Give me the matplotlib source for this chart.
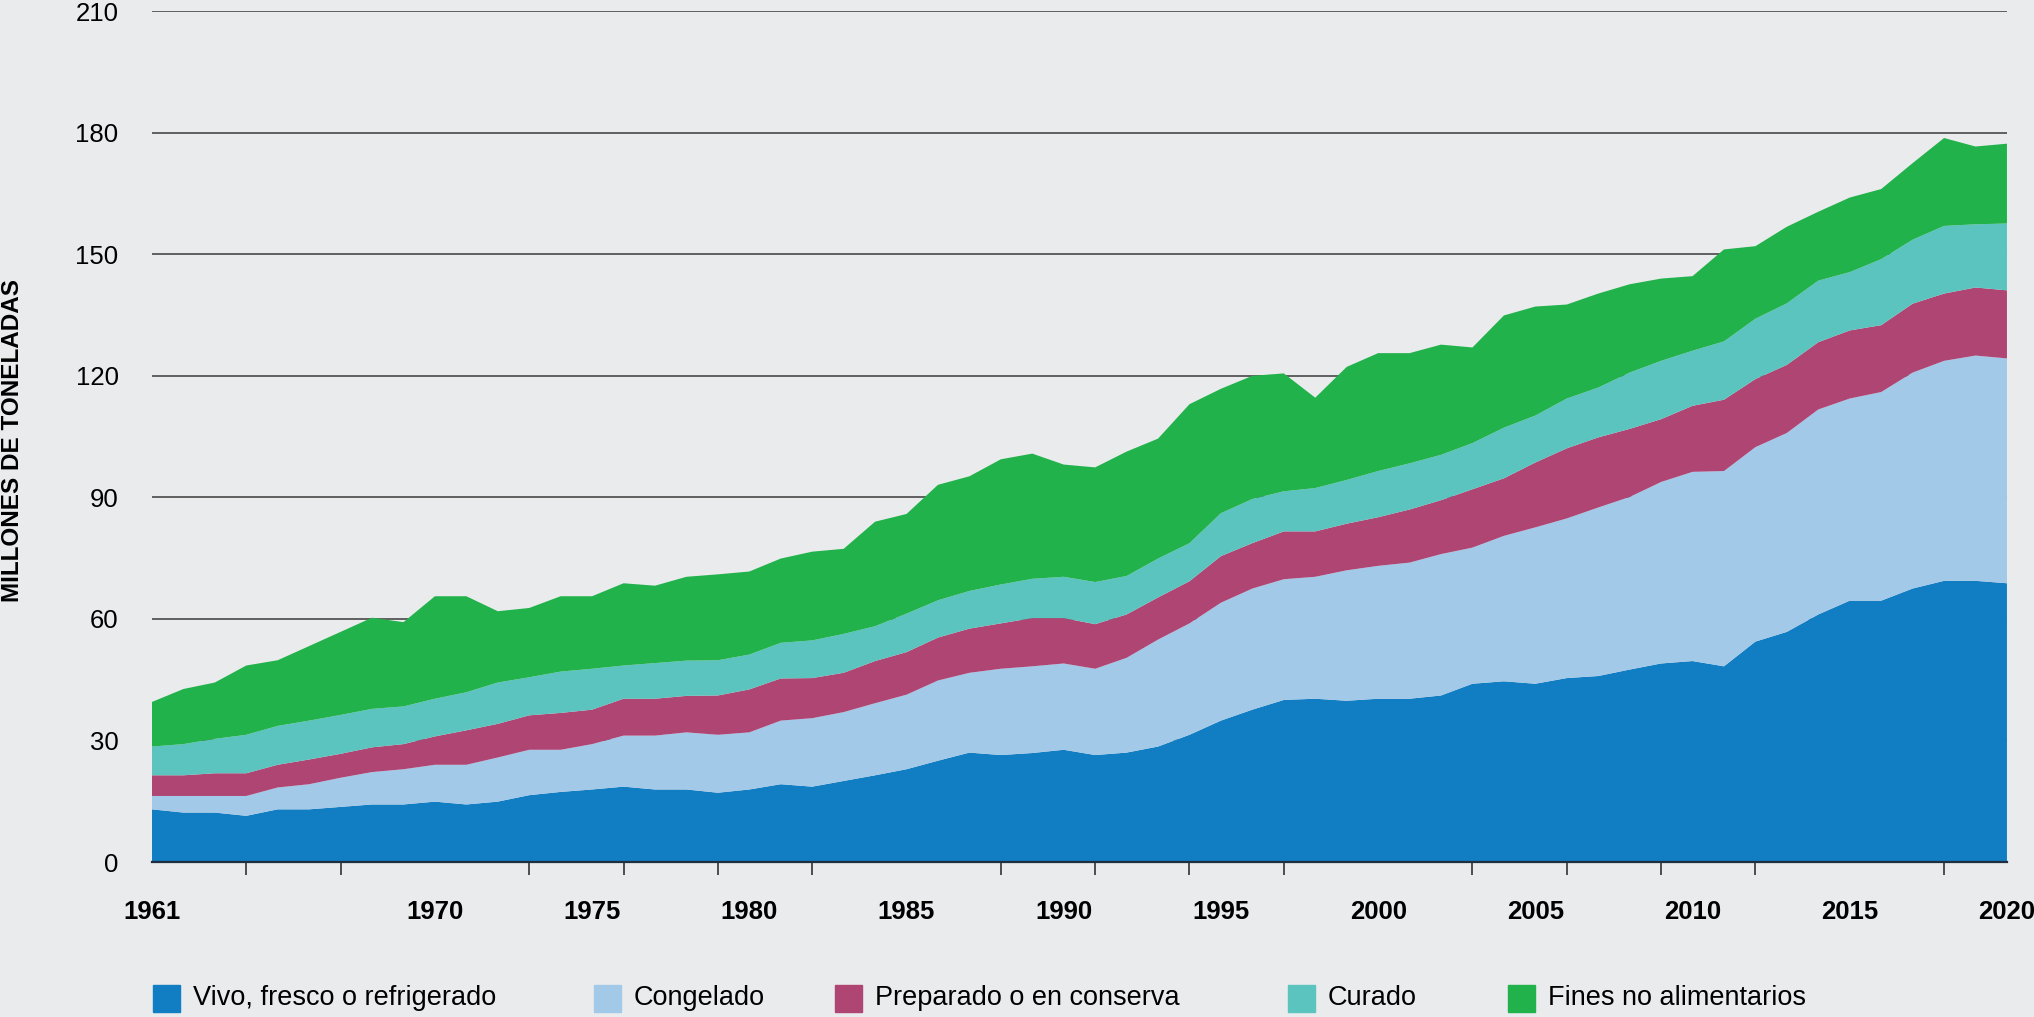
import matplotlib
matplotlib.use('Agg')
import matplotlib.pyplot as plt
from matplotlib.patches import Rectangle

plt.rcParams['font.family'] = ['Liberation Sans', 'DejaVu Sans']

# years 1961-2020
years = list(range(1961, 2021))

# millones de toneladas
vivo = [13.0, 12.2, 12.2, 11.4, 13.0, 13.0, 13.6, 14.2, 14.2, 14.9,
        14.2, 14.9, 16.5, 17.3, 17.9, 18.6, 17.9, 17.9, 17.1, 17.9,
        19.2, 18.6, 20.0, 21.4, 22.9, 25.0, 27.0, 26.4, 26.9, 27.7,
        26.4, 27.0, 28.5, 31.4, 34.9, 37.6, 40.0, 40.3, 39.8, 40.3,
        40.3, 41.1, 44.0, 44.6, 44.0, 45.4, 45.9, 47.5, 49.0, 49.6,
        48.3, 54.4, 56.8, 61.1, 64.5, 64.5, 67.5, 69.4, 69.4, 68.8]
congelado = [3.3, 4.1, 4.1, 4.9, 5.4, 6.2, 7.2, 8.0, 8.7, 9.1,
             9.8, 10.9, 11.2, 10.4, 11.2, 12.6, 13.3, 14.1, 14.3, 14.1,
             15.7, 16.9, 17.0, 17.8, 18.4, 19.8, 19.7, 21.3, 21.4, 21.3,
             21.3, 23.4, 26.4, 27.5, 29.1, 29.9, 29.8, 30.1, 32.2, 32.8,
             33.6, 34.9, 33.6, 35.9, 38.6, 39.4, 41.6, 42.6, 44.8, 46.7,
             48.2, 48.0, 49.1, 50.6, 49.9, 51.5, 53.3, 54.3, 55.6, 55.5]
preparado = [5.1, 5.1, 5.6, 5.6, 5.6, 6.1, 5.9, 6.1, 6.2, 7.0,
             8.5, 8.3, 8.5, 9.1, 8.5, 9.1, 9.1, 9.0, 9.7, 10.6,
             10.4, 9.9, 9.7, 10.4, 10.5, 10.6, 10.9, 11.2, 11.9, 11.2,
             11.0, 10.7, 10.4, 10.4, 11.5, 11.2, 11.8, 11.2, 11.5, 12.0,
             13.1, 13.3, 14.4, 14.2, 16.0, 17.3, 17.3, 16.8, 15.5, 16.3,
             17.6, 16.8, 16.8, 16.6, 16.8, 16.5, 17.0, 16.6, 16.8, 16.8]
curado = [7.1, 7.7, 8.5, 9.5, 9.6, 9.6, 9.6, 9.5, 9.3, 9.3,
          9.4, 10.2, 9.4, 10.2, 10.1, 8.2, 8.8, 8.7, 8.7, 8.6,
          8.8, 9.3, 9.6, 8.6, 9.5, 9.2, 9.3, 9.6, 9.7, 10.2,
          10.4, 9.5, 9.6, 9.4, 10.6, 10.9, 9.9, 10.7, 10.8, 11.4,
          11.4, 11.2, 11.4, 12.5, 11.6, 12.3, 12.3, 13.9, 14.4, 13.6,
          14.4, 14.9, 15.2, 15.2, 14.4, 16.3, 15.8, 16.7, 15.6, 16.5]
fines = [11.0, 13.6, 13.9, 17.1, 16.2, 18.4, 20.5, 22.5, 20.8, 25.3,
         23.7, 17.6, 17.1, 18.6, 17.9, 20.3, 19.1, 20.7, 21.2, 20.5,
         20.8, 21.9, 21.0, 25.8, 24.6, 28.5, 28.3, 30.9, 30.9, 27.7,
         28.3, 30.7, 29.6, 34.3, 30.7, 30.4, 29.1, 22.3, 27.9, 29.1,
         27.2, 27.2, 23.6, 27.7, 26.9, 23.2, 23.2, 21.8, 20.3, 18.4,
         22.7, 17.9, 18.9, 17.0, 18.4, 17.3, 18.9, 21.7, 19.2, 19.7]

labels = ['Vivo, fresco o refrigerado', 'Congelado', 'Preparado o en conserva',
          'Curado', 'Fines no alimentarios']
colors = ['#117DC3', '#A3C9E8', '#AF4573', '#5CC4BE', '#21B24B']
year_labels = [1961, 1970, 1975, 1980, 1985, 1990, 1995, 2000, 2005, 2010, 2015, 2020]
bg = '#EAEBED'

fig = plt.figure(figsize=(20.34, 10.17), dpi=100, facecolor=bg)
ax = fig.add_axes([0.0747, 0.1524, 0.912, 0.8366])
ax.set_facecolor(bg)

ax.stackplot(years, vivo, congelado, preparado, curado, fines,
             colors=colors, labels=labels, linewidth=0, zorder=2)

ax.set_xlim(1961, 2020)
ax.set_ylim(0, 210)
ax.set_yticks(range(0, 211, 30))
ax.grid(axis='y', color='#555555', linewidth=1.3, zorder=0)
ax.set_axisbelow(True)
for s in ['top', 'right', 'left']:
    ax.spines[s].set_visible(False)
ax.spines['bottom'].set_color('#1f2f3f')
ax.spines['bottom'].set_linewidth(1.6)
ax.spines['bottom'].set_zorder(3)

# labelled years have no tick mark; small ticks every 3 years
ax.set_xticks(year_labels)
ax.set_xticklabels([str(y) for y in year_labels], fontsize=18.5, fontweight='bold')
ax.set_xticks(list(range(1961, 2021, 3)) + [2020], minor=True)
ax.tick_params(axis='x', which='major', length=0, pad=27)
ax.tick_params(axis='x', which='minor', length=9.5, width=1.2, color='#333333')
ax.tick_params(axis='y', length=0, pad=24, labelsize=18.5)

fig.text(0.0062, 0.567, 'MILLONES DE TONELADAS', rotation=90, ha='center', va='center',
         fontsize=17.5, fontweight='bold')

# legend along the bottom
leg_x = [153, 594, 835, 1288, 1508]
for xp, lab, col in zip(leg_x, labels, colors):
    fig.patches.append(Rectangle((xp / 2034, (1017 - 1012) / 1017), 27 / 2034, 27 / 1017,
                                 transform=fig.transFigure, color=col))
    fig.text((xp + 40) / 2034, (1017 - 998) / 1017, lab, fontsize=19.5,
             ha='left', va='center')

fig.savefig('out.png', dpi=100, facecolor=bg)
